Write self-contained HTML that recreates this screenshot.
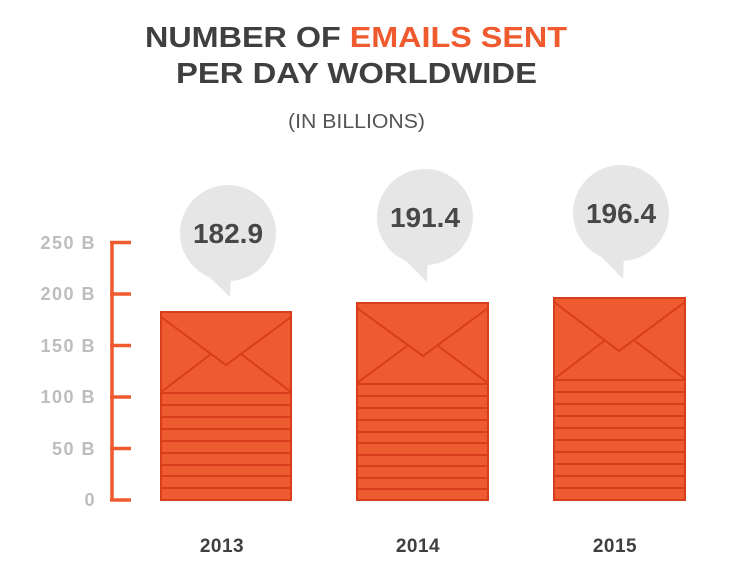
<!DOCTYPE html>
<html><head><meta charset="utf-8"><style>html,body{margin:0;padding:0;background:#fff}svg{display:block}</style></head>
<body>
<svg width="748" height="578" viewBox="0 0 748 578" xmlns="http://www.w3.org/2000/svg" font-family="Liberation Sans, DejaVu Sans, sans-serif">
<text x="145" y="47" font-size="29" font-weight="bold" fill="#3f3f3f" textLength="422" lengthAdjust="spacingAndGlyphs">NUMBER OF <tspan fill="#ef5a2f">EMAILS SENT</tspan></text>
<text x="176" y="83" font-size="29" font-weight="bold" fill="#3f3f3f" textLength="361" lengthAdjust="spacingAndGlyphs">PER DAY WORLDWIDE</text>
<text x="288" y="128" font-size="20" fill="#555" textLength="137" lengthAdjust="spacingAndGlyphs">(IN BILLIONS)</text>

<g fill="#bdbdbd" font-size="18" font-weight="bold" text-anchor="end" letter-spacing="1.5">
<text x="96" y="249">250 B</text><text x="96" y="300">200 B</text><text x="96" y="352">150 B</text>
<text x="96" y="403">100 B</text><text x="96" y="455">50 B</text><text x="96" y="506">0</text>
</g>
<g stroke="#ef5a2f" stroke-width="3.5" fill="none">
<line x1="112" y1="242.5" x2="112" y2="500.5"/>
<line x1="110" y1="242.5" x2="131" y2="242.5"/><line x1="110" y1="294" x2="131" y2="294"/>
<line x1="110" y1="345.5" x2="131" y2="345.5"/><line x1="110" y1="397" x2="131" y2="397"/>
<line x1="110" y1="448.5" x2="131" y2="448.5"/><line x1="110" y1="500" x2="131" y2="500"/>
</g>

<g fill="#e6e6e6">
<circle cx="228" cy="233" r="48"/><polygon points="196,264 230,297 231,272"/>
<circle cx="425" cy="217" r="48"/><polygon points="393,248 427,282 428,256"/>
<circle cx="621" cy="213" r="48"/><polygon points="589,244 623,279 624,252"/>
</g>
<g fill="#474747" font-size="28" font-weight="bold" text-anchor="middle">
<text x="228" y="243">182.9</text><text x="425" y="227">191.4</text><text x="621" y="223">196.4</text>
</g>

<g fill="#ee5b30" stroke="#d83e1c" stroke-width="2">
<rect x="161" y="312" width="130" height="188"/>
<rect x="357" y="303" width="131" height="197"/>
<rect x="554" y="298" width="131" height="202"/>
</g>
<g stroke="#d83e1c" stroke-width="2" fill="none">
<path d="M161 393H291M161 317L226 365L291 317M161 392L211 354M291 392L241 354"/>
<path d="M161 405H291M161 417H291M161 429H291M161 441H291M161 453H291M161 465H291M161 476H291M161 488H291"/>
<path d="M357 384H488M357 308L423 356L488 308M357 383L407 346M488 383L438 346"/>
<path d="M357 396H488M357 408H488M357 420H488M357 432H488M357 443H488M357 455H488M357 466H488M357 478H488M357 489H488"/>
<path d="M554 380H685M554 302L619 351L685 302M554 379L604 341M685 379L635 341"/>
<path d="M554 392H685M554 404H685M554 416H685M554 428H685M554 440H685M554 452H685M554 464H685M554 476H685M554 488H685"/>
</g>

<g fill="#3f3f3f" font-size="19" font-weight="bold" text-anchor="middle" letter-spacing="0.5">
<text x="222" y="552">2013</text><text x="418" y="552">2014</text><text x="615" y="552">2015</text>
</g>
</svg>
</body></html>
